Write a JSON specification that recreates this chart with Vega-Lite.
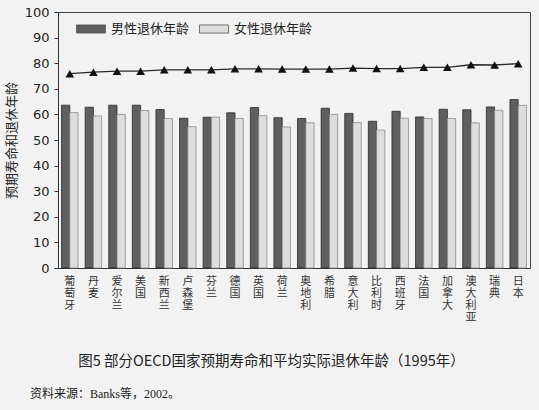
{
  "$schema": "https://vega.github.io/schema/vega-lite/v6.json",
  "width": 472,
  "height": 256,
  "autosize": {"type": "none"},
  "padding": {"left": 58, "top": 12, "right": 9, "bottom": 142},
  "background": "#f2f2f2",
  "title": {
    "text": "资料来源：Banks等，2002。",
    "orient": "bottom",
    "anchor": "start",
    "frame": "group",
    "dx": -28,
    "offset": 21,
    "fontSize": 12,
    "fontWeight": "normal",
    "color": "#222",
    "font": "Liberation Serif, Noto Sans CJK SC"
  },
  "datasets": {
    "retire": [
      {"国家": "葡萄牙", "类别": "男性退休年龄", "年龄": 63.6},
      {"国家": "葡萄牙", "类别": "女性退休年龄", "年龄": 60.7},
      {"国家": "丹麦", "类别": "男性退休年龄", "年龄": 62.8},
      {"国家": "丹麦", "类别": "女性退休年龄", "年龄": 59.4},
      {"国家": "爱尔兰", "类别": "男性退休年龄", "年龄": 63.6},
      {"国家": "爱尔兰", "类别": "女性退休年龄", "年龄": 60.0},
      {"国家": "美国", "类别": "男性退休年龄", "年龄": 63.6},
      {"国家": "美国", "类别": "女性退休年龄", "年龄": 61.5},
      {"国家": "新西兰", "类别": "男性退休年龄", "年龄": 61.9},
      {"国家": "新西兰", "类别": "女性退休年龄", "年龄": 58.4},
      {"国家": "卢森堡", "类别": "男性退休年龄", "年龄": 58.5},
      {"国家": "卢森堡", "类别": "女性退休年龄", "年龄": 55.2},
      {"国家": "芬兰", "类别": "男性退休年龄", "年龄": 58.9},
      {"国家": "芬兰", "类别": "女性退休年龄", "年龄": 58.9},
      {"国家": "德国", "类别": "男性退休年龄", "年龄": 60.6},
      {"国家": "德国", "类别": "女性退休年龄", "年龄": 58.4},
      {"国家": "英国", "类别": "男性退休年龄", "年龄": 62.7},
      {"国家": "英国", "类别": "女性退休年龄", "年龄": 59.5},
      {"国家": "荷兰", "类别": "男性退休年龄", "年龄": 58.7},
      {"国家": "荷兰", "类别": "女性退休年龄", "年龄": 55.1},
      {"国家": "奥地利", "类别": "男性退休年龄", "年龄": 58.4},
      {"国家": "奥地利", "类别": "女性退休年龄", "年龄": 56.7},
      {"国家": "希腊", "类别": "男性退休年龄", "年龄": 62.4},
      {"国家": "希腊", "类别": "女性退休年龄", "年龄": 60.0},
      {"国家": "意大利", "类别": "男性退休年龄", "年龄": 60.4},
      {"国家": "意大利", "类别": "女性退休年龄", "年龄": 56.8},
      {"国家": "比利时", "类别": "男性退休年龄", "年龄": 57.3},
      {"国家": "比利时", "类别": "女性退休年龄", "年龄": 53.9},
      {"国家": "西班牙", "类别": "男性退休年龄", "年龄": 61.2},
      {"国家": "西班牙", "类别": "女性退休年龄", "年龄": 58.5},
      {"国家": "法国", "类别": "男性退休年龄", "年龄": 59.0},
      {"国家": "法国", "类别": "女性退休年龄", "年龄": 58.4},
      {"国家": "加拿大", "类别": "男性退休年龄", "年龄": 62.0},
      {"国家": "加拿大", "类别": "女性退休年龄", "年龄": 58.4},
      {"国家": "澳大利亚", "类别": "男性退休年龄", "年龄": 61.8},
      {"国家": "澳大利亚", "类别": "女性退休年龄", "年龄": 56.7},
      {"国家": "瑞典", "类别": "男性退休年龄", "年龄": 62.9},
      {"国家": "瑞典", "类别": "女性退休年龄", "年龄": 61.6},
      {"国家": "日本", "类别": "男性退休年龄", "年龄": 65.8},
      {"国家": "日本", "类别": "女性退休年龄", "年龄": 63.5}
    ],
    "life": [
      {"国家": "葡萄牙", "预期寿命": 75.9},
      {"国家": "丹麦", "预期寿命": 76.5},
      {"国家": "爱尔兰", "预期寿命": 76.9},
      {"国家": "美国", "预期寿命": 76.9},
      {"国家": "新西兰", "预期寿命": 77.4},
      {"国家": "卢森堡", "预期寿命": 77.4},
      {"国家": "芬兰", "预期寿命": 77.4},
      {"国家": "德国", "预期寿命": 77.8},
      {"国家": "英国", "预期寿命": 77.8},
      {"国家": "荷兰", "预期寿命": 77.7},
      {"国家": "奥地利", "预期寿命": 77.7},
      {"国家": "希腊", "预期寿命": 77.7},
      {"国家": "意大利", "预期寿命": 78.1},
      {"国家": "比利时", "预期寿命": 77.9},
      {"国家": "西班牙", "预期寿命": 77.9},
      {"国家": "法国", "预期寿命": 78.4},
      {"国家": "加拿大", "预期寿命": 78.4},
      {"国家": "澳大利亚", "预期寿命": 79.4},
      {"国家": "瑞典", "预期寿命": 79.3},
      {"国家": "日本", "预期寿命": 79.8}
    ]
  },
  "encoding": {
    "x": {
      "field": "国家",
      "type": "nominal",
      "sort": null,
      "scale": {"paddingInner": 0.3, "paddingOuter": 0.15},
      "axis": {
        "title": "图5  部分OECD国家预期寿命和平均实际退休年龄（1995年）",
        "titleFont": "Noto Sans CJK SC",
        "titleFontSize": 14.5,
        "titleFontWeight": "normal",
        "titleColor": "#222",
        "titleAnchor": "start",
        "titleAlign": "center",
        "titleBaseline": "alphabetic",
        "titleX": 213,
        "titleY": 97,
        "labelAngle": 0,
        "labelExpr": "split(datum.label, '')",
        "labelFontSize": 11,
        "labelLineHeight": 12,
        "labelBaseline": "top",
        "labelPadding": 7,
        "labelColor": "#333",
        "labelFont": "Noto Sans CJK SC",
        "labelOverlap": false,
        "ticks": false,
        "domainColor": "#333"
      }
    },
    "y": {
      "type": "quantitative",
      "scale": {"domain": [0, 100]},
      "axis": {
        "title": "预期寿命和退休年龄",
        "titleFont": "Noto Sans CJK SC",
        "titleFontSize": 13,
        "titleFontWeight": "normal",
        "titleColor": "#222",
        "titlePadding": 6,
        "values": [0, 10, 20, 30, 40, 50, 60, 70, 80, 90, 100],
        "tickCount": 20,
        "labelOverlap": false,
        "labelFontSize": 13,
        "labelColor": "#222",
        "labelFont": "DejaVu Sans",
        "labelPadding": 5,
        "tickSize": 4,
        "tickColor": "#333",
        "domainColor": "#333",
        "grid": false
      }
    }
  },
  "layer": [
    {
      "data": {"name": "retire"},
      "mark": {"type": "bar", "strokeWidth": 0.8},
      "encoding": {
        "xOffset": {"field": "类别", "type": "nominal", "sort": ["男性退休年龄", "女性退休年龄"]},
        "y": {"field": "年龄"},
        "color": {
          "field": "类别",
          "type": "nominal",
          "scale": {"domain": ["男性退休年龄", "女性退休年龄"], "range": ["#5f5f5f", "#dddddd"]},
          "legend": {
            "title": null,
            "orient": "none",
            "direction": "horizontal",
            "legendX": 18,
            "legendY": 2,
            "symbolType": "M-1,-0.28H1V0.28H-1Z",
            "symbolSize": 841,
            "symbolStrokeColor": "#555",
            "symbolStrokeWidth": 0.8,
            "symbolOpacity": 1,
            "labelFontSize": 13,
            "labelFont": "Noto Sans CJK SC",
            "labelColor": "#222",
            "labelOffset": 5,
            "columnPadding": 7
          }
        },
        "stroke": {
          "field": "类别",
          "type": "nominal",
          "scale": {"domain": ["男性退休年龄", "女性退休年龄"], "range": ["#2a2a2a", "#8a8a8a"]},
          "legend": null
        }
      }
    },
    {
      "data": {"name": "life"},
      "mark": {"type": "line", "strokeWidth": 1.3},
      "encoding": {
        "y": {"field": "预期寿命"},
        "stroke": {
          "datum": "预期寿命",
          "type": "nominal",
          "scale": {"domain": ["预期寿命"], "range": ["#111111"]},
          "legend": {
            "title": null,
            "orient": "none",
            "legendX": 264,
            "legendY": 2,
            "symbolType": "M-1,0H1M0,-0.27L0.28,0.24L-0.28,0.24Z",
            "symbolSize": 900,
            "symbolFillColor": "#111",
            "symbolStrokeWidth": 1.3,
            "labelFontSize": 13,
            "labelFont": "Noto Sans CJK SC",
            "labelColor": "#222",
            "labelOffset": 6
          }
        }
      }
    },
    {
      "data": {"name": "life"},
      "mark": {"type": "point", "shape": "triangle-up", "filled": true, "size": 75, "color": "#111", "opacity": 1},
      "encoding": {
        "y": {"field": "预期寿命"}
      }
    }
  ],
  "config": {
    "font": "Noto Sans CJK SC",
    "view": {"stroke": "#444", "strokeWidth": 1}
  }
}
